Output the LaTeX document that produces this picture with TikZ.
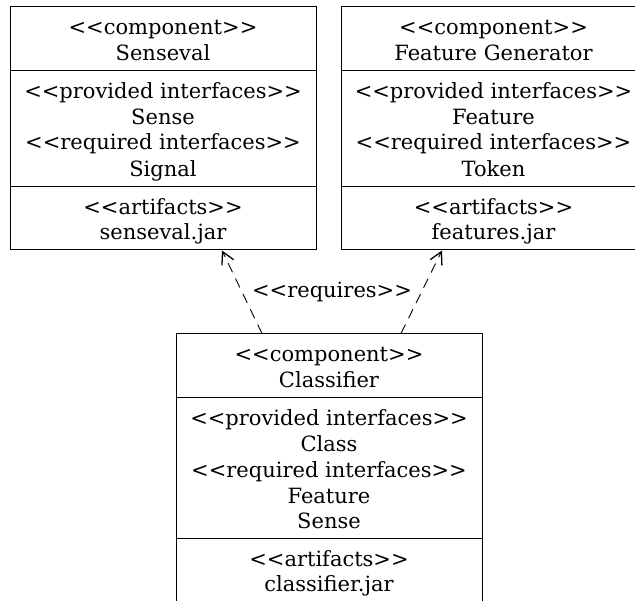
\documentclass[tikz,border=0pt]{standalone}
\usepackage{fontspec}
\setmainfont{DejaVu Serif}[Ligatures=TeXOff]
\usetikzlibrary{arrows.meta}
\newcommand\stereo[1]{<\kern0pt<#1>\kern0pt>}
\newcommand\ls{\rule[-4pt]{0pt}{25pt}}
\tikzset{
  comp/.style={draw, line width=1pt, inner sep=0pt, align=center,
    font=\fontsize{21}{25}\selectfont},
  dep/.style={draw, line width=0.9pt, dash pattern=on 10pt off 7pt,
    -{Straight Barb[length=12pt,width=13pt,line width=1.3pt]}},
  lbl/.style={inner sep=0pt, font=\fontsize{21}{25}\selectfont}
}
\begin{document}
\begin{tikzpicture}[x=1pt,y=-1pt]
\useasboundingbox (0,0) rectangle (635,601);
\clip (0,0) rectangle (635,601);
% Senseval
\node[comp, minimum width=306pt, minimum height=64pt] (sh) at (163,39) {\ls\stereo{component}\\\ls Senseval};
\node[comp, minimum width=306pt, minimum height=116pt] (si) at (163,129) {\ls\stereo{provided interfaces}\\\ls Sense\\\ls\stereo{required interfaces}\\\ls Signal};
\node[comp, minimum width=306pt, minimum height=63pt] (sa) at (163,218.5) {\ls\stereo{artifacts}\\\ls senseval.jar};
% Feature Generator
\node[comp, minimum width=305pt, minimum height=64pt] (fh) at (493.5,39) {\ls\stereo{component}\\\ls Feature Generator};
\node[comp, minimum width=305pt, minimum height=116pt] (fi) at (493.5,129) {\ls\stereo{provided interfaces}\\\ls Feature\\\ls\stereo{required interfaces}\\\ls Token};
\node[comp, minimum width=305pt, minimum height=63pt] (fa) at (493.5,218.5) {\ls\stereo{artifacts}\\\ls features.jar};
% Classifier
\node[comp, minimum width=306pt, minimum height=64pt] (ch) at (329,366) {\ls\stereo{component}\\\ls Classifier};
\node[comp, minimum width=306pt, minimum height=141pt] (ci) at (329,468.5) {\ls\stereo{provided interfaces}\\\ls Class\\\ls\stereo{required interfaces}\\\ls Feature\\\ls Sense};
\node[comp, minimum width=306pt, minimum height=63pt] (ca) at (329,570.5) {\ls\stereo{artifacts}\\\ls classifier.jar};
% dependencies
\draw[dep] ([xshift=-67pt]ch.north) -- ([xshift=59pt]sa.south);
\draw[dep] ([xshift=72pt]ch.north) -- ([xshift=-51.5pt]fa.south);
\node[lbl] (req) at (332,292) {\stereo{requires}};
\end{tikzpicture}
\end{document}
